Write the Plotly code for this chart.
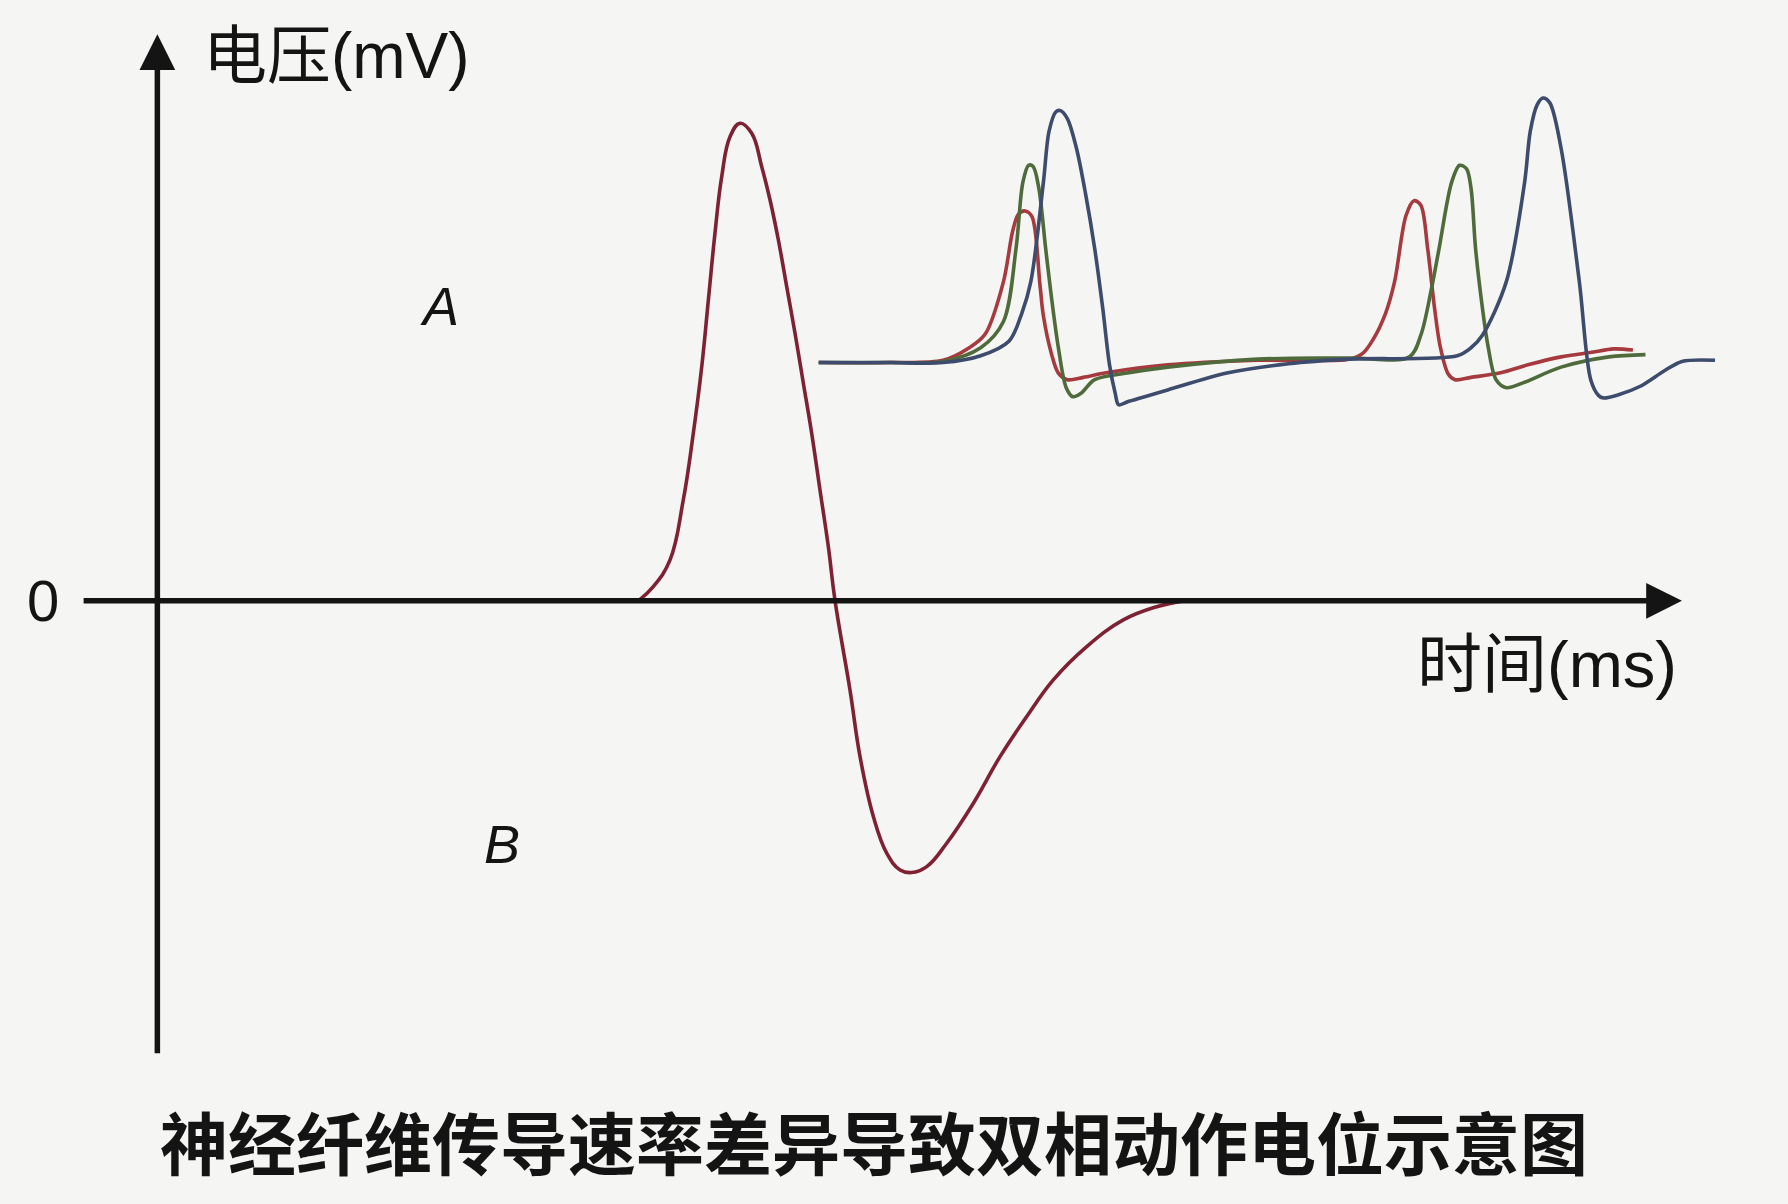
import plotly.graph_objects as go

# ---- Data (schematic units: time ~ ms, voltage ~ mV) ----
# Biphasic compound potential (curve B)
t_B = [42.18, 43.49, 44.96, 46.12, 47.00, 47.74, 48.32, 48.90, 49.49, 50.22, 51.10, 52.12,
       53.00, 53.73, 54.46, 55.19, 55.92, 56.65, 57.38, 58.11, 58.84, 59.43, 60.74, 61.62,
       62.79, 63.96, 65.13, 66.15, 67.47, 69.22, 71.56, 73.90, 76.24, 78.57, 81.50, 84.71,
       87.64, 90.0]
v_B = [0, 1.25, 3.59, 8.85, 14.70, 20.54, 26.39, 32.24, 37.20, 40.71, 41.89, 41.01,
       38.08, 35.16, 31.65, 27.56, 23.47, 19.09, 14.70, 9.73, 4.76, 0, -7.81, -13.66,
       -18.92, -22.13, -23.60, -23.83, -23.31, -21.26, -17.75, -13.66, -10.15, -6.93, -4.01, -1.67,
       -0.51, 0]

# Inset (A): three fibres with different conduction speeds
t_red = [58.0, 64.2, 68.9, 71.2, 72.6, 74.2, 75.0, 75.5, 76.1, 76.7, 77.4, 77.7, 78.4, 79.0,
         79.8, 81.2, 83.2, 88.6, 96.5, 104.5, 105.7, 106.6, 107.7, 108.5, 109.5, 110.2, 110.8,
         111.4, 112.0, 112.5, 113.2, 113.8, 115.2, 117.8, 120.2, 123.1, 125.8, 127.7, 129.4]
v_red = [20.9, 20.9, 21.1, 22.2, 23.4, 28.0, 32.4, 33.9, 34.2, 33.7, 27.7, 25.0, 21.7, 20.0,
         19.4, 19.6, 20.0, 20.7, 21.1, 21.2, 21.7, 22.9, 25.2, 28.0, 33.8, 35.1, 34.7,
         30.9, 25.7, 22.3, 19.9, 19.4, 19.6, 20.0, 20.7, 21.4, 21.8, 22.1, 22.0]

t_green = [58.0, 64.2, 68.9, 72.2, 74.2, 75.3, 75.9, 76.4, 76.8, 77.3, 77.9, 78.4, 79.0, 79.7,
           80.3, 81.0, 82.2, 85.2, 88.6, 96.5, 104.5, 109.8, 110.8, 111.7, 112.4, 113.5, 114.2,
           114.8, 115.2, 115.6, 116.2, 116.7, 117.4, 118.3, 119.7, 123.1, 127.3, 130.5]
v_green = [20.9, 20.9, 21.0, 22.2, 24.5, 30.9, 36.7, 38.2, 38.1, 36.2, 30.9, 26.7, 22.3, 18.7,
           17.9, 18.2, 19.4, 20.0, 20.5, 21.2, 21.3, 21.4, 23.3, 27.2, 30.9, 36.7, 38.2,
           37.9, 36.2, 30.9, 25.7, 22.3, 19.4, 18.7, 19.1, 20.5, 21.4, 21.6]

t_blue = [58.0, 64.2, 68.9, 72.2, 74.7, 75.8, 76.6, 77.7, 78.2, 78.8, 79.2, 79.8, 80.6, 81.4,
          82.2, 82.9, 83.5, 84.0, 84.3, 85.2, 88.6, 93.9, 99.2, 104.5, 114.0, 115.2, 116.2,
          118.3, 119.9, 120.4, 121.0, 121.5, 122.1, 123.1, 124.7, 125.7, 126.4, 126.8, 128.2,
          130.0, 132.2, 133.7, 136.6]
v_blue = [20.9, 20.9, 20.9, 21.5, 22.8, 25.2, 28.0, 36.7, 41.2, 42.9, 43.0, 42.3, 39.7, 35.7,
          30.9, 25.7, 20.7, 18.2, 17.2, 17.5, 18.5, 20.0, 20.8, 21.2, 21.5, 22.2, 23.3,
          28.0, 36.7, 41.2, 43.5, 44.1, 43.7, 39.7, 28.0, 19.4, 18.0, 17.8, 18.1,
          18.8, 20.2, 21.0, 21.1]

x_axis_span = [-6.6, 133.7]
y_axis_span = [-39.8, 49.7]

y_label = "电压(mV)"
x_label = "时间(ms)"
zero_label = "0"
caption = "神经纤维传导速率差异导致双相动作电位示意图"

# ---- Styles ----
FONT = "Liberation Sans, Noto Sans CJK SC, sans-serif"
CJK = "Noto Sans CJK SC, sans-serif"
INK = "#141414"

fig = go.Figure()

line_cfg = dict(shape="spline", smoothing=0.9)
fig.add_trace(go.Scatter(x=t_red, y=v_red, mode="lines",
                         line=dict(color="#a63a3e", width=3.6, **line_cfg), hoverinfo="skip"))
fig.add_trace(go.Scatter(x=t_green, y=v_green, mode="lines",
                         line=dict(color="#4f6b3c", width=3.6, **line_cfg), hoverinfo="skip"))
fig.add_trace(go.Scatter(x=t_blue, y=v_blue, mode="lines",
                         line=dict(color="#3d4b6c", width=3.6, **line_cfg), hoverinfo="skip"))
fig.add_trace(go.Scatter(x=t_B, y=v_B, mode="lines",
                         line=dict(color="#7e2233", width=3.6, shape="spline", smoothing=1.2),
                         hoverinfo="skip"))

annotations = [
    # x axis arrow
    dict(x=x_axis_span[1], y=0, ax=x_axis_span[0], ay=0, axref="x", ayref="y",
         xref="x", yref="y", showarrow=True, arrowhead=2, arrowsize=1.3,
         arrowwidth=5.5, arrowcolor=INK, text=""),
    # y axis arrow
    dict(x=0, y=y_axis_span[1], ax=0, ay=y_axis_span[0], axref="x", ayref="y",
         xref="x", yref="y", showarrow=True, arrowhead=2, arrowsize=1.3,
         arrowwidth=5.5, arrowcolor=INK, text=""),
    dict(x=3.8, y=47.8, xref="x", yref="y", text=y_label, showarrow=False,
         xanchor="left", yanchor="middle", font=dict(family=FONT, size=64, color=INK)),
    dict(x=110.3, y=-5.6, xref="x", yref="y", text=x_label, showarrow=False,
         xanchor="left", yanchor="middle", font=dict(family=FONT, size=65, color=INK)),
    dict(x=-10.0, y=0, xref="x", yref="y", text=zero_label, showarrow=False,
         xanchor="center", yanchor="middle", font=dict(family=FONT, size=58, color=INK)),
    dict(x=24.7, y=25.9, xref="x", yref="y", text="A", showarrow=False,
         xanchor="center", yanchor="middle",
         font=dict(family=FONT, size=54, color=INK, style="italic")),
    dict(x=30.2, y=-21.3, xref="x", yref="y", text="B", showarrow=False,
         xanchor="center", yanchor="middle",
         font=dict(family=FONT, size=54, color=INK, style="italic")),
    dict(x=0.489, y=0.053, xref="paper", yref="paper", text=caption, showarrow=False,
         xanchor="center", yanchor="middle",
         font=dict(family=CJK, size=68, color=INK, weight=700)),
]

fig.update_layout(
    width=1788, height=1204,
    margin=dict(l=0, r=0, t=0, b=0),
    paper_bgcolor="#f5f5f3", plot_bgcolor="#f5f5f3",
    showlegend=False,
    xaxis=dict(range=[-13.8, 143.0], visible=False, fixedrange=True),
    yaxis=dict(range=[-52.9, 52.7], visible=False, fixedrange=True),
    annotations=annotations,
)

fig.write_html("out.html", config={"displayModeBar": False},
               post_script="document.body.style.margin='0';document.body.style.overflow='hidden';")
